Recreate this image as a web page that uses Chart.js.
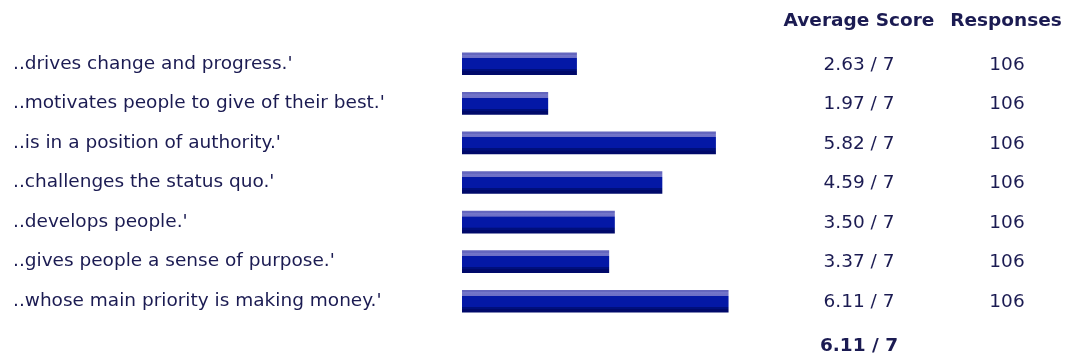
<!DOCTYPE html>
<html>
<head>
<meta charset="utf-8">
<script src="https://cdn.jsdelivr.net/npm/chart.js@4"></script>
<style>
  html, body { margin: 0; padding: 0; background: #ffffff; }
  #wrap { position: relative; width: 1065px; height: 356px; }
</style>
</head>
<body>
<div id="wrap"><canvas id="c" width="1065" height="356"></canvas></div>
<script>
const categories = [
  "..drives change and progress.'",
  "..motivates people to give of their best.'",
  "..is in a position of authority.'",
  "..challenges the status quo.'",
  "..develops people.'",
  "..gives people a sense of purpose.'",
  "..whose main priority is making money.'"
];
const averageScores = [2.63, 1.97, 5.82, 4.59, 3.50, 3.37, 6.11];
const responses = [106, 106, 106, 106, 106, 106, 106];
const maxScore = 7;
const overallScore = 6.11;
const headers = ["Average Score", "Responses"];

const TEXT = '#1b1b52';
const FONT = '"DejaVu Sans", Verdana, sans-serif';
const FS = 18.5;
const BAR_H = 22;

function barGradient(context) {
  const chart = context.chart;
  const ys = chart.scales && chart.scales.y;
  if (!ys || context.dataIndex === undefined) return '#0418a6';
  const cy = ys.getPixelForValue(context.dataIndex);
  if (!isFinite(cy)) return '#0418a6';
  const top = cy - BAR_H / 2, bot = cy + BAR_H / 2;
  const g = chart.ctx.createLinearGradient(0, top, 0, bot);
  g.addColorStop(0.00, '#6466be');
  g.addColorStop(0.09, '#6466be');
  g.addColorStop(0.10, '#7476ca');
  g.addColorStop(0.20, '#6e70c6');
  g.addColorStop(0.245, '#6e70c6');
  g.addColorStop(0.25, '#0418a6');
  g.addColorStop(0.745, '#0418a6');
  g.addColorStop(0.75, '#000f7c');
  g.addColorStop(0.84, '#000f7c');
  g.addColorStop(0.85, '#00096a');
  g.addColorStop(1.00, '#00096a');
  return g;
}

const columnsPlugin = {
  id: 'columns',
  afterDraw(chart) {
    const ctx = chart.ctx;
    const ys = chart.scales.y;
    const scoreX = 859, respX = 1007;
    ctx.save();
    ctx.fillStyle = TEXT;
    ctx.textAlign = 'center';
    ctx.textBaseline = 'middle';
    ctx.font = FS + 'px ' + FONT;
    averageScores.forEach((v, i) => {
      const y = ys.getPixelForValue(i) + 1;
      ctx.fillText(v.toFixed(2) + ' / ' + maxScore, scoreX, y);
      ctx.fillText(String(responses[i]), respX, y);
    });
    const y0 = ys.getPixelForValue(0);
    const yN = ys.getPixelForValue(categories.length - 1);
    ctx.font = 'bold ' + FS + 'px ' + FONT;
    ctx.fillText(headers[0], 859, y0 - 43);
    ctx.fillText(headers[1], 1006, y0 - 43);
    ctx.fillText(overallScore.toFixed(2) + ' / ' + maxScore, scoreX, yN + 45);
    ctx.restore();
  }
};

const chart = new Chart(document.getElementById('c'), {
  type: 'bar',
  data: {
    labels: categories,
    datasets: [{
      data: averageScores,
      backgroundColor: barGradient,
      borderWidth: 0,
      barThickness: BAR_H
    }]
  },
  options: {
    indexAxis: 'y',
    responsive: false,
    animation: false,
    layout: { padding: { left: 13, right: 298, top: 44, bottom: 35 } },
    plugins: { legend: { display: false }, tooltip: { enabled: false } },
    scales: {
      x: {
        min: 0, max: maxScore,
        display: false,
        grid: { display: false }
      },
      y: {
        grid: { display: false },
        border: { display: false },
        afterFit(scale) { scale.width = 462 - 13; },
        ticks: {
          crossAlign: 'far',
          color: TEXT,
          font: { family: FONT, size: FS },
          padding: 0
        }
      }
    }
  },
  plugins: [columnsPlugin]
});
chart.update('none');
</script>
</body>
</html>
